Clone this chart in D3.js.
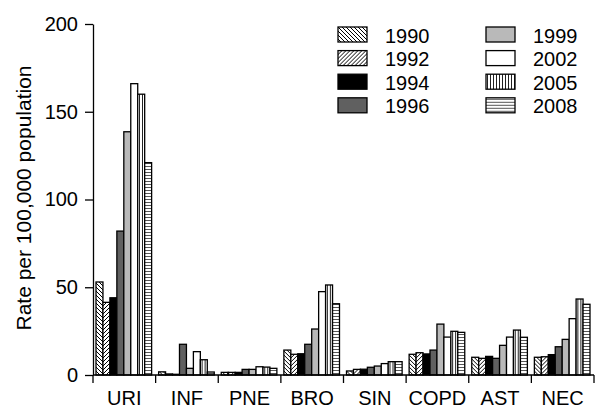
<!DOCTYPE html>
<html>
<head>
<meta charset="utf-8">
<script src="https://cdn.jsdelivr.net/npm/d3@7"></script>
<style>
  body { margin: 0; background: #fff; }
  text { font-family: "Liberation Sans", Arial, sans-serif; fill: #000; }
</style>
</head>
<body>
<div id="chart"></div>
<script>
var categories = ['URI', 'INF', 'PNE', 'BRO', 'SIN', 'COPD', 'AST', 'NEC'];
var years = ['1990', '1992', '1994', '1996', '1999', '2002', '2005', '2008'];
var yTicks = [0, 50, 100, 150, 200];

// rate per 100,000, one array per year, in category order
var v1990 = [53, 1.8, 1.5, 14.2, 2.3, 11.8, 10.1, 10.1];
var v1992 = [41.4, 0.6, 1.5, 11.8, 3.2, 12.7, 9.5, 10.4];
var v1994 = [44, 0.4, 1.5, 12.1, 3.3, 12, 10.6, 11.6];
var v1996 = [82, 17.5, 3.2, 17.5, 4.4, 14.2, 9.5, 16.1];
var v1999 = [138.6, 3.8, 3.2, 26.2, 5.1, 29, 16.9, 20.3];
var v2002 = [166, 13.3, 4.7, 47.5, 6.5, 21.6, 21.6, 32.1];
var v2005 = [160, 8.7, 4.5, 51.3, 7.6, 24.9, 25.6, 43.3];
var v2008 = [121, 1.7, 3.8, 40.6, 7.6, 24.3, 21.5, 40.3];
var series = [v1990, v1992, v1994, v1996, v1999, v2002, v2005, v2008];

var fills = ['url(#p1990)', 'url(#p1992)', '#000', '#606060', '#b9b9b9', '#fff', 'url(#p2005)', 'url(#p2008)'];

var margin = {top: 24, right: 1, bottom: 33, left: 93}
    , width = 595 - margin.left - margin.right
    , height = 408 - margin.top - margin.bottom;

var svg = d3.select('#chart')
    .append('svg')
    .attr('width', 595)
    .attr('height', 408);

// hatch patterns
var defs = svg.append('defs');

var hatch = function (id, size, lines, stroke) {
    var p = defs.append('pattern')
        .attr('id', id)
        .attr('patternUnits', 'userSpaceOnUse')
        .attr('width', size)
        .attr('height', size);
    p.append('rect').attr('width', size).attr('height', size).attr('fill', '#fff');
    lines.forEach(function (l) {
        p.append('line')
            .attr('x1', l[0]).attr('y1', l[1]).attr('x2', l[2]).attr('y2', l[3])
            .attr('stroke', stroke)
            .attr('stroke-width', 1);
    });
};
hatch('p1990', 4, [[0, 0, 4, 4], [-1, 3, 1, 5], [3, -1, 5, 1]], '#000');
hatch('p1992', 4, [[0, 4, 4, 0], [-1, 1, 1, -1], [3, 5, 5, 3]], '#000');
hatch('p2005', 3, [[1.5, 0, 1.5, 3]], '#222');
hatch('p2008', 3, [[0, 1.5, 3, 1.5]], '#555');

var main = svg.append('g')
    .attr('transform', 'translate(' + margin.left + ',' + margin.top + ')');

var x = d3.scaleBand()
    .domain(categories)
    .range([0, width]);

var xi = d3.scaleBand()
    .domain(years)
    .range([3, x.bandwidth() - 4]);

var y = d3.scaleLinear()
    .domain([0, 200])
    .range([height, 0]);

// bars
var groups = main.selectAll('g.cat')
    .data(categories)
    .enter()
    .append('g')
    .attr('class', 'cat')
    .attr('transform', function (d) { return 'translate(' + x(d) + ',0)'; });

groups.selectAll('rect')
    .data(function (d, ci) {
        return years.map(function (yr, yi) { return {year: yr, yi: yi, v: series[yi][ci]}; });
    })
    .enter()
    .append('rect')
    .attr('x', function (d) { return xi(d.year); })
    .attr('y', function (d) { return y(d.v); })
    .attr('width', xi.bandwidth())
    .attr('height', function (d) { return height - y(d.v); })
    .attr('fill', function (d) { return fills[d.yi]; })
    .attr('stroke', '#000')
    .attr('stroke-width', 1.3);

// x axis: ticks on category boundaries
var xAxisG = main.append('g')
    .attr('transform', 'translate(0,' + height + ')');

xAxisG.append('line')
    .attr('x1', 0).attr('x2', width)
    .attr('stroke', '#000').attr('stroke-width', 1.3);

xAxisG.selectAll('line.tick')
    .data(categories.concat(['end']))
    .enter()
    .append('line')
    .attr('class', 'tick')
    .attr('x1', function (d) { return d == 'end' ? width : x(d); })
    .attr('x2', function (d) { return d == 'end' ? width : x(d); })
    .attr('y1', 0).attr('y2', 8)
    .attr('stroke', '#000').attr('stroke-width', 1.3);

xAxisG.selectAll('text')
    .data(categories)
    .enter()
    .append('text')
    .attr('x', function (d) { return x(d) + x.bandwidth() / 2; })
    .attr('y', 30)
    .attr('text-anchor', 'middle')
    .style('font-size', '20px')
    .text(function (d) { return d; });

// y axis
var yAxis = d3.axisLeft(y)
    .tickValues(yTicks)
    .tickSize(8)
    .tickPadding(7)
    .tickSizeOuter(0);

var yAxisG = main.append('g').call(yAxis);
yAxisG.select('.domain').attr('stroke-width', 1.3);
yAxisG.selectAll('.tick line').attr('stroke-width', 1.3);
yAxisG.selectAll('.tick text')
    .style('font-size', '20px')
    .style('font-family', '"Liberation Sans", Arial, sans-serif');

// y title
svg.append('text')
    .attr('transform', 'translate(31,198) rotate(-90)')
    .attr('text-anchor', 'middle')
    .style('font-size', '21px')
    .text('Rate per 100,000 population');

// legend
var legend = svg.append('g');
var items = legend.selectAll('g')
    .data(years)
    .enter()
    .append('g')
    .attr('transform', function (d, i) {
        var col = Math.floor(i / 4), row = i % 4;
        return 'translate(' + (338 + col * 148) + ',' + (27 + row * 23.6) + ')';
    });

items.append('rect')
    .attr('width', 29)
    .attr('height', 15)
    .attr('fill', function (d, i) { return fills[i]; })
    .attr('stroke', '#000')
    .attr('stroke-width', 1.3);

items.append('text')
    .attr('x', 47)
    .attr('y', 15.5)
    .style('font-size', '20px')
    .text(function (d) { return d; });
</script>
</body>
</html>
